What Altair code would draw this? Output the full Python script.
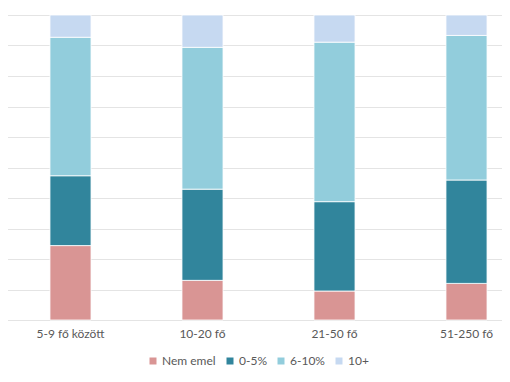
import altair as alt
import pandas as pd

categories = ["5-9 fő között", "10-20 fő", "21-50 fő", "51-250 fő"]
series = ["Nem emel", "0-5%", "6-10%", "10+"]
nem_emel = [24.4, 13.0, 9.5, 12.0]
p0_5 = [22.9, 29.9, 29.3, 33.9]
p6_10 = [45.4, 46.5, 52.3, 47.4]
p10plus = [7.3, 10.6, 8.9, 6.7]
colors = ["#D99594", "#31859C", "#92CDDC", "#C6D9F1"]

rows = []
for si, (name, vals) in enumerate(zip(series, [nem_emel, p0_5, p6_10, p10plus])):
    for c, v in zip(categories, vals):
        rows.append({"cat": c, "series": name, "value": v, "ord": si})
df = pd.DataFrame(rows)

FONT = "Lato"
TXT = "#595959"

chart = alt.Chart(df).mark_bar(stroke="white", strokeWidth=0.8).encode(
    x=alt.X("cat:N", sort=categories, title=None,
            scale=alt.Scale(range=[-3.5, 524.5], paddingInner=0.689, paddingOuter=0.3445),
            axis=alt.Axis(labelAngle=0, domain=False, ticks=False, labelPadding=8,
                          labelFont=FONT, labelFontSize=12, labelColor=TXT, grid=False)),
    y=alt.Y("value:Q", stack="zero", title=None,
            scale=alt.Scale(domain=[0, 100], nice=False),
            axis=alt.Axis(values=list(range(0, 101, 10)), labels=False, ticks=False,
                          domain=False, grid=True, gridColor="#E4E4E4", gridWidth=1)),
    color=alt.Color("series:N", sort=series,
                    scale=alt.Scale(domain=series, range=colors),
                    legend=alt.Legend(title=None, orient="none", direction="horizontal",
                                      legendX=139, legendY=340, symbolType="square",
                                      symbolSize=49, symbolStrokeWidth=0, labelFont=FONT,
                                      labelFontSize=12, labelColor=TXT, columnPadding=8,
                                      labelOffset=3)),
    order=alt.Order("ord:Q", sort="ascending"),
).properties(
    width=494, height=305,
    autosize=alt.AutoSizeParams(type="none"),
    padding={"left": 0, "top": 7, "right": 0, "bottom": 55},
).configure_view(stroke=None)

chart.save("out.html", embed_options={"renderer": "svg", "actions": False})
